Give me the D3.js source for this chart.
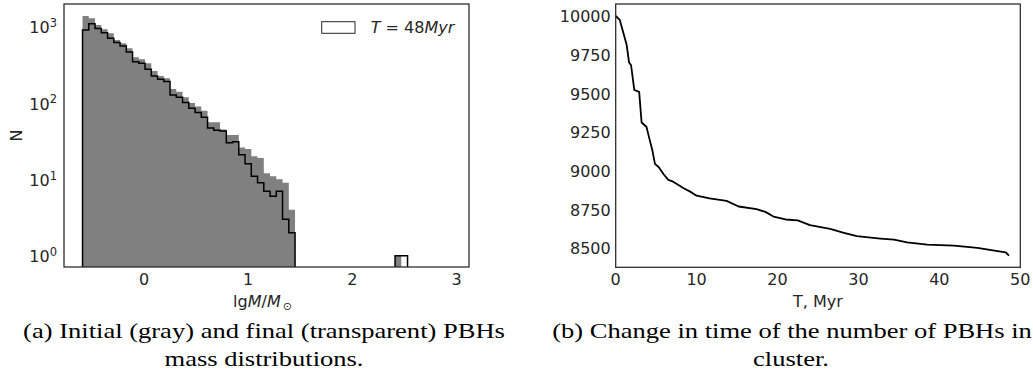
<!DOCTYPE html>
<html>
<head>
<meta charset="utf-8">
<script src="https://cdn.jsdelivr.net/npm/d3@7"></script>
<style>
  body { margin: 0; background: #fff; }
  text { font-family: "DejaVu Sans", sans-serif; fill: #262626; }
  .cap { font-family: "Liberation Serif", serif; fill: #000; }
</style>
</head>
<body>
<svg id="fig" width="1033" height="383"></svg>
<script>
// (a) mass histogram, bins in lg M/Msun
var binStart = -0.59, binWidth = 0.06;
var initialCounts = [1371, 1280, 1047, 918, 815, 666, 603, 519, 396, 373, 330, 262, 225, 210, 152, 140, 119,
  100, 90, 79, 56, 56, 45, 38, 38, 26, 25, 20, 19, 12, 11, 10, 9, 4,
  0, 0, 0, 0, 0, 0, 0, 0, 0, 0, 0, 0, 0, 0, 0, 0, 1, 0];
var finalCounts = [900, 1085, 945, 830, 700, 620, 555, 465, 347, 330, 275, 225, 204, 190, 127, 119, 101,
  85, 75, 65, 47, 44, 43, 30, 31, 21, 16, 11, 9, 7, 6, 7, 3, 2,
  0, 0, 0, 0, 0, 0, 0, 0, 0, 0, 0, 0, 0, 0, 0, 0, 1, 1];
var massTicks = [0, 1, 2, 3];
var countTicks = [1, 10, 100, 1000];

// (b) number of PBHs vs time
var timeMyr = [0, 0.5, 0.95, 1.35, 1.65, 1.9, 2.3, 2.9, 3.2, 3.8, 4.2, 4.5, 4.85, 5.3, 5.9, 6.5, 7.1, 8.4, 9.2,
  10.0, 11.6, 13.7, 15.2, 17.4, 18.5, 19.5, 21.0, 22.5, 24.0, 26.5, 28.2, 29.8, 32.7, 34.4, 36.0, 38.5,
  41.8, 44.7, 46.8, 48.2, 48.6];
var numPBH = [10000, 9975, 9890, 9815, 9700, 9682, 9522, 9510, 9312, 9285, 9200, 9140, 9045, 9025, 8980, 8942,
  8930, 8888, 8866, 8840, 8823, 8806, 8770, 8753, 8735, 8705, 8686, 8680, 8650, 8625, 8600, 8578, 8563,
  8556, 8538, 8524, 8517, 8503, 8485, 8473, 8452];
var timeTicks = [0, 10, 20, 30, 40, 50];
var numTicks = [8500, 8750, 9000, 9250, 9500, 9750, 10000];

var svg = d3.select('#fig');

// ---------- panel (a) ----------
var ax = { left: 64, right: 469, top: 4, bottom: 267 };
var xa = d3.scaleLinear().domain([-0.768, 3.12]).range([ax.left, ax.right]);
var ya = d3.scaleLog().domain([0.711, 1972]).range([ax.bottom, ax.top]);

svg.append('clipPath').attr('id', 'clipA')
  .append('rect')
  .attr('x', ax.left).attr('y', ax.top)
  .attr('width', ax.right - ax.left).attr('height', ax.bottom - ax.top);

var ga = svg.append('g').attr('clip-path', 'url(#clipA)');

var bins = initialCounts.map(function (c, i) {
  return { lo: binStart + i * binWidth, hi: binStart + (i + 1) * binWidth, init: c, fin: finalCounts[i] };
});

// outline points of a histogram, zero bins sit below the axis
function stepPoints(key) {
  var base = ax.bottom + 2;
  var p = [[xa(bins[0].lo), base]];
  bins.forEach(function (d) {
    var y = d[key] > 0 ? ya(d[key]) : base;
    p.push([xa(d.lo), y]);
    p.push([xa(d.hi), y]);
  });
  p.push([xa(bins[bins.length - 1].hi), base]);
  return p;
}

ga.append('path')
  .attr('d', d3.line()(stepPoints('init')) + 'Z')
  .style('fill', '#808080')
  .style('stroke', 'none');

ga.append('path')
  .attr('d', d3.line()(stepPoints('fin')))
  .style('fill', 'none')
  .style('stroke', '#000')
  .style('stroke-width', 1.5)
  .style('stroke-linejoin', 'miter');

svg.append('rect')
  .attr('x', ax.left).attr('y', ax.top)
  .attr('width', ax.right - ax.left).attr('height', ax.bottom - ax.top)
  .style('fill', 'none').style('stroke', '#262626').style('stroke-width', 1.25);

svg.selectAll('text.xta')
  .data(massTicks)
  .enter()
  .append('text')
    .attr('class', 'xta')
    .attr('x', function (d) { return xa(d); })
    .attr('y', 285)
    .attr('text-anchor', 'middle')
    .style('font-size', '16px')
    .text(function (d) { return d; });

var yl = svg.selectAll('text.yta')
  .data(countTicks)
  .enter()
  .append('text')
    .attr('class', 'yta')
    .attr('x', 57)
    .attr('y', function (d) { return ya(d) + 6.8; })
    .attr('text-anchor', 'end')
    .style('font-size', '16px');
yl.append('tspan').text('10');
yl.append('tspan')
  .attr('dy', -6.5)
  .style('font-size', '11.5px')
  .text(function (d) { return Math.round(Math.log10(d)); });

svg.append('text')
  .attr('transform', 'translate(21.5,' + ((ax.top + ax.bottom) / 2) + ') rotate(-90)')
  .attr('text-anchor', 'middle')
  .style('font-size', '16px')
  .text('N');

var xlab = svg.append('text')
  .attr('x', (ax.left + ax.right) / 2 - 4)
  .attr('y', 307)
  .attr('text-anchor', 'middle')
  .style('font-size', '16px');
xlab.append('tspan').text('lg');
xlab.append('tspan').style('font-style', 'italic').text('M');
xlab.append('tspan').text('/');
xlab.append('tspan').style('font-style', 'italic').text('M');
xlab.append('tspan').attr('dy', 3).attr('dx', 2).style('font-size', '11px').text('\u2299');

// legend
svg.append('rect')
  .attr('x', 321.7).attr('y', 21.7).attr('width', 33.3).attr('height', 11.6)
  .style('fill', '#fff').style('stroke', '#262626').style('stroke-width', 1);
var leg = svg.append('text')
  .attr('x', 370.7).attr('y', 33.3)
  .style('font-size', '16px');
leg.append('tspan').style('font-style', 'italic').text('T');
leg.append('tspan').text(' = 48');
leg.append('tspan').style('font-style', 'italic').text('Myr');

// ---------- panel (b) ----------
var bx = { left: 615.7, right: 1020.3, top: 4, bottom: 267.3 };
var xb = d3.scaleLinear().domain([0, 50]).range([bx.left, bx.right]);
var yb = d3.scaleLinear().domain([8377.3, 10077.5]).range([bx.bottom, bx.top]);

var series = timeMyr.map(function (t, i) { return [t, numPBH[i]]; });
svg.append('path')
  .datum(series)
  .attr('d', d3.line()
    .x(function (d) { return xb(d[0]); })
    .y(function (d) { return yb(d[1]); }))
  .style('fill', 'none')
  .style('stroke', '#000')
  .style('stroke-width', 1.8)
  .style('stroke-linejoin', 'round');

svg.append('rect')
  .attr('x', bx.left).attr('y', bx.top)
  .attr('width', bx.right - bx.left).attr('height', bx.bottom - bx.top)
  .style('fill', 'none').style('stroke', '#262626').style('stroke-width', 1.25);

svg.selectAll('text.xtb')
  .data(timeTicks)
  .enter()
  .append('text')
    .attr('class', 'xtb')
    .attr('x', function (d) { return xb(d); })
    .attr('y', 285)
    .attr('text-anchor', 'middle')
    .style('font-size', '16px')
    .text(function (d) { return d; });

svg.selectAll('text.ytb')
  .data(numTicks)
  .enter()
  .append('text')
    .attr('class', 'ytb')
    .attr('x', 610.7)
    .attr('y', function (d) { return yb(d) + 6.2; })
    .attr('text-anchor', 'end')
    .style('font-size', '16px')
    .text(function (d) { return d; });

svg.append('text')
  .attr('x', (bx.left + bx.right) / 2)
  .attr('y', 307)
  .attr('text-anchor', 'middle')
  .style('font-size', '16px')
  .text('T, Myr');

// ---------- captions ----------
var captions = [
  { text: '(a) Initial (gray) and final (transparent) PBHs', x: 264, y: 338 },
  { text: 'mass distributions.', x: 264, y: 366 },
  { text: '(b) Change in time of the number of PBHs in', x: 792, y: 338 },
  { text: 'cluster.', x: 791, y: 366 }
];
var capText = svg.selectAll('text.cap')
  .data(captions)
  .enter()
  .append('text')
    .attr('class', 'cap')
    .attr('text-anchor', 'middle')
    .style('font-size', '20.5px')
    .text(function (d) { return d.text; });

// widen the serif face so line (a) spans the same width as in the figure
var sx = 482 / capText.nodes()[0].getComputedTextLength();
capText.attr('transform', function (d) {
  return 'translate(' + d.x + ',' + d.y + ') scale(' + sx + ',1)';
});
</script>
</body>
</html>
